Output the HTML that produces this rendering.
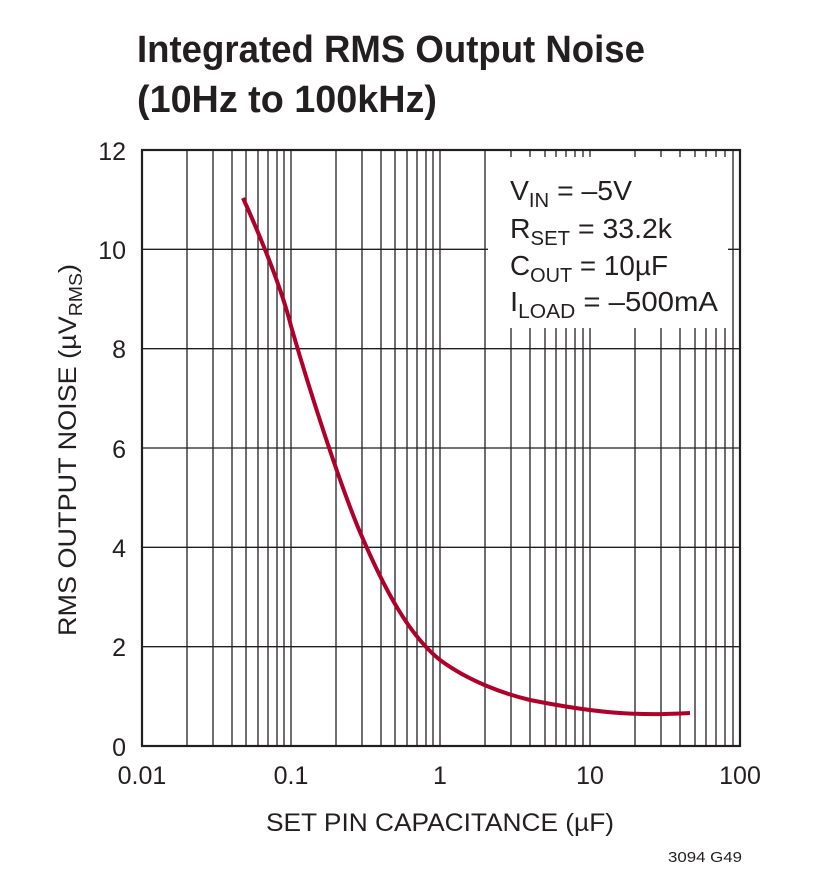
<!DOCTYPE html>
<html><head><style>body{margin:0;background:#fff}svg{display:block}text{font-family:"Liberation Sans",sans-serif;fill:#231f20}</style></head>
<body>
<svg width="818" height="894" viewBox="0 0 818 894" xmlns="http://www.w3.org/2000/svg">
<text x="137" y="62" font-size="38" font-weight="bold" textLength="508" lengthAdjust="spacingAndGlyphs">Integrated RMS Output Noise</text>
<text x="137" y="112" font-size="38" font-weight="bold" textLength="300" lengthAdjust="spacingAndGlyphs">(10Hz to 100kHz)</text>
<g stroke="#231f20" stroke-width="1.3" fill="none">
<path d="
M187,150V746M213,150V746M232,150V746M246,150V746M258,150V746M268,150V746M277,150V746M284,150V746M291,150V746
M336,150V746M362,150V746M381,150V746M395,150V746M407,150V746M417,150V746M426,150V746M433,150V746M440,150V746
M485,150V746M511,150V746M530,150V746M545,150V746M556,150V746M566,150V746M575,150V746M583,150V746M590,150V746
M635,150V746M661,150V746M680,150V746M695,150V746M706,150V746M716,150V746M725,150V746M733,150V746
M142,249.3H740M142,348.7H740M142,448H740M142,547.3H740M142,646.7H740"/>
</g>
<rect x="488" y="157" width="240" height="171" fill="#fff"/>
<rect x="142" y="150" width="598" height="596" fill="none" stroke="#231f20" stroke-width="2.2"/>
<path d="M243,198 C262,240 282,290 291,326 C310,392 337,475 357,525 C385,592 410,636 440,660 C470,682 505,694 530,700 C560,706 590,711 620,713 C650,715 670,714 690,713" fill="none" stroke="#b0002a" stroke-width="4"/>
<g font-size="25">
<text x="126" y="160" text-anchor="end">12</text>
<text x="126" y="259" text-anchor="end">10</text>
<text x="126" y="358" text-anchor="end">8</text>
<text x="126" y="458" text-anchor="end">6</text>
<text x="126" y="557" text-anchor="end">4</text>
<text x="126" y="656" text-anchor="end">2</text>
<text x="126" y="756" text-anchor="end">0</text>
<text x="142" y="784" text-anchor="middle">0.01</text>
<text x="291" y="784" text-anchor="middle">0.1</text>
<text x="440" y="784" text-anchor="middle">1</text>
<text x="590" y="784" text-anchor="middle">10</text>
<text x="740" y="784" text-anchor="middle">100</text>
<text x="266" y="831" textLength="348" lengthAdjust="spacingAndGlyphs">SET PIN CAPACITANCE (µF)</text>
<text transform="translate(76,636) rotate(-90)" textLength="372" lengthAdjust="spacingAndGlyphs">RMS OUTPUT NOISE (µV<tspan font-size="18" dy="6">RMS</tspan><tspan dy="-6">)</tspan></text>
</g>
<g font-size="28">
<text x="510" y="200" textLength="122" lengthAdjust="spacingAndGlyphs">V<tspan font-size="20" dy="7">IN</tspan><tspan dy="-7"> = –5V</tspan></text>
<text x="510" y="238" textLength="162" lengthAdjust="spacingAndGlyphs">R<tspan font-size="20" dy="7">SET</tspan><tspan dy="-7"> = 33.2k</tspan></text>
<text x="510" y="275" textLength="158" lengthAdjust="spacingAndGlyphs">C<tspan font-size="20" dy="7">OUT</tspan><tspan dy="-7"> = 10µF</tspan></text>
<text x="510" y="311" textLength="208" lengthAdjust="spacingAndGlyphs">I<tspan font-size="20" dy="7">LOAD</tspan><tspan dy="-7"> = –500mA</tspan></text>
</g>
<text x="668" y="862" font-size="15" textLength="74" lengthAdjust="spacingAndGlyphs">3094 G49</text>
</svg>
</body></html>
